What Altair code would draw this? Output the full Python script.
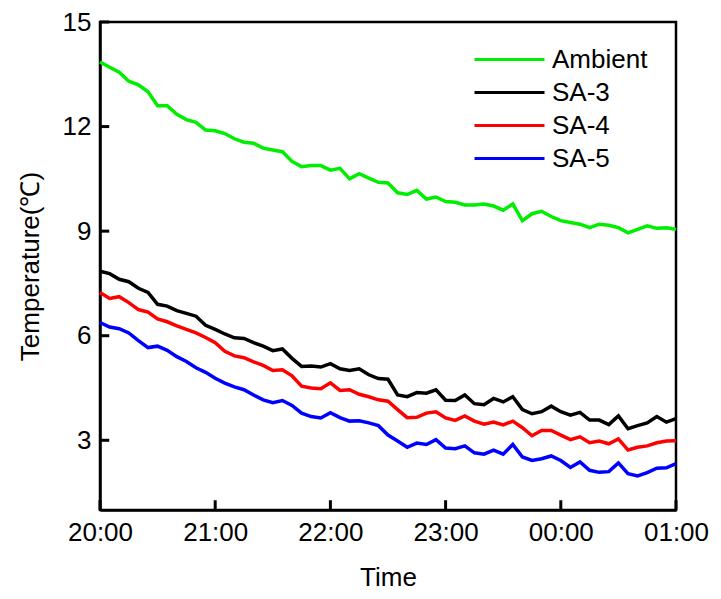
import json
import altair as alt
import pandas as pd

# ---- data (5-minute steps from 20:00 to 01:00) ----
minutes = list(range(0, 301, 5))

ambient = [13.85, 13.7, 13.56, 13.3, 13.2, 13.0, 12.6, 12.6, 12.35, 12.2,
           12.12, 11.9, 11.88, 11.8, 11.65, 11.55, 11.52, 11.38, 11.33, 11.28,
           11.0, 10.85, 10.88, 10.88, 10.75, 10.8, 10.5, 10.65, 10.52, 10.4,
           10.38, 10.1, 10.05, 10.17, 9.92, 9.98, 9.85, 9.83, 9.75, 9.75,
           9.78, 9.72, 9.6, 9.78, 9.3, 9.5, 9.57, 9.42, 9.3, 9.25,
           9.2, 9.1, 9.2, 9.17, 9.1, 8.95, 9.05, 9.15, 9.08, 9.1, 9.05]

sa3 = [7.85, 7.78, 7.62, 7.55, 7.36, 7.24, 6.9, 6.85, 6.72, 6.64,
       6.56, 6.3, 6.18, 6.05, 5.94, 5.92, 5.8, 5.7, 5.57, 5.62,
       5.35, 5.12, 5.13, 5.1, 5.2, 5.05, 5.0, 5.05, 4.88, 4.77,
       4.75, 4.3, 4.25, 4.37, 4.35, 4.45, 4.15, 4.14, 4.3, 4.05,
       4.02, 4.2, 4.1, 4.25, 3.88, 3.76, 3.82, 3.98, 3.82, 3.72,
       3.8, 3.58, 3.58, 3.45, 3.7, 3.33, 3.42, 3.5, 3.68, 3.52, 3.62]

sa4 = [7.24, 7.07, 7.12, 6.95, 6.75, 6.68, 6.48, 6.4, 6.28, 6.18,
       6.08, 5.95, 5.8, 5.55, 5.42, 5.37, 5.25, 5.15, 5.0, 5.02,
       4.85, 4.55, 4.5, 4.48, 4.65, 4.43, 4.45, 4.32, 4.25, 4.16,
       4.12, 3.88, 3.65, 3.66, 3.78, 3.82, 3.64, 3.57, 3.7, 3.55,
       3.46, 3.52, 3.44, 3.55, 3.36, 3.13, 3.28, 3.28, 3.15, 3.02,
       3.1, 2.93, 2.98, 2.9, 3.04, 2.72, 2.8, 2.84, 2.93, 2.98, 2.99]

sa5 = [6.38, 6.25, 6.2, 6.08, 5.86, 5.66, 5.7, 5.58, 5.4, 5.26,
       5.08, 4.95, 4.78, 4.64, 4.53, 4.45, 4.3, 4.16, 4.08, 4.14,
       4.0, 3.78, 3.68, 3.64, 3.79, 3.65, 3.55, 3.56, 3.5, 3.42,
       3.15, 2.98, 2.8, 2.92, 2.88, 3.02, 2.78, 2.76, 2.84, 2.64,
       2.6, 2.72, 2.6, 2.88, 2.52, 2.42, 2.47, 2.55, 2.42, 2.22,
       2.38, 2.14, 2.08, 2.1, 2.35, 2.04, 1.98, 2.07, 2.2, 2.21, 2.33]

series_names = ["Ambient", "SA-3", "SA-4", "SA-5"]
series_colors = ["#00ee00", "#000000", "#ff0000", "#0000ff"]

x_tick_values = [0, 60, 120, 180, 240, 300]
x_tick_labels = ["20:00", "21:00", "22:00", "23:00", "00:00", "01:00"]
y_tick_values = [3, 6, 9, 12, 15]

rows = []
for name, vals in zip(series_names, [ambient, sa3, sa4, sa5]):
    for m, v in zip(minutes, vals):
        rows.append({"minute": m, "temp": v, "series": name})
df = pd.DataFrame(rows)

FONT = "Liberation Sans"
W, H = 576, 488

x_scale = alt.Scale(domain=[0, 300], nice=False)
y_scale = alt.Scale(domain=[1, 15], nice=False, zero=False)

label_expr = json.dumps(x_tick_labels) + "[round(datum.value / 60)]"

lines = alt.Chart(df).mark_line(strokeWidth=3.5).encode(
    x=alt.X("minute:Q", scale=x_scale,
            axis=alt.Axis(title="Time", values=x_tick_values, labelExpr=label_expr,
                          tickSize=0, labelPadding=9, titlePadding=19,
                          labelFlush=False, labelOverlap=False, grid=False)),
    y=alt.Y("temp:Q", scale=y_scale,
            axis=alt.Axis(title="Temperature(℃)", values=y_tick_values,
                          tickSize=0, labelPadding=9, titlePadding=19,
                          labelFlush=False, labelOverlap=False, grid=False)),
    color=alt.Color("series:N",
                    scale=alt.Scale(domain=series_names, range=series_colors),
                    sort=series_names,
                    legend=alt.Legend(title=None, orient="none",
                                      legendX=373, legendY=21,
                                      symbolType="stroke", symbolSize=4900,
                                      symbolStrokeWidth=3, clipHeight=33,
                                      rowPadding=0, padding=0,
                                      labelFontSize=26, labelFont=FONT,
                                      labelColor="black", labelOffset=6)),
)

xt = pd.DataFrame({"minute": x_tick_values})
yt = pd.DataFrame({"temp": y_tick_values})

# inward tick marks (Vega-Lite refuses negative tickSize)
x_ticks = alt.Chart(xt).mark_rule(color="#000000", strokeWidth=3).encode(
    x=alt.X("minute:Q", scale=x_scale),
    y=alt.datum(1.0),
    y2=alt.datum(1.28),
)
y_ticks = alt.Chart(yt).mark_rule(color="#000000", strokeWidth=3).encode(
    y=alt.Y("temp:Q", scale=y_scale),
    x=alt.datum(0),
    x2=alt.datum(4.8),
)

chart = alt.layer(lines, x_ticks, y_ticks).properties(
    width=W, height=H,
    autosize=alt.AutoSizeParams(type="none"),
    padding={"left": 92, "top": 14, "right": 37, "bottom": 81},
    background="white",
).configure_view(
    stroke="black", strokeWidth=2.5,
).configure_axis(
    domainColor="black", domainWidth=2.5,
    labelFont=FONT, labelFontSize=26, labelColor="black",
    titleFont=FONT, titleFontSize=26, titleColor="black", titleFontWeight="normal",
)

chart.save("out.html", embed_options={"renderer": "svg", "actions": False})
